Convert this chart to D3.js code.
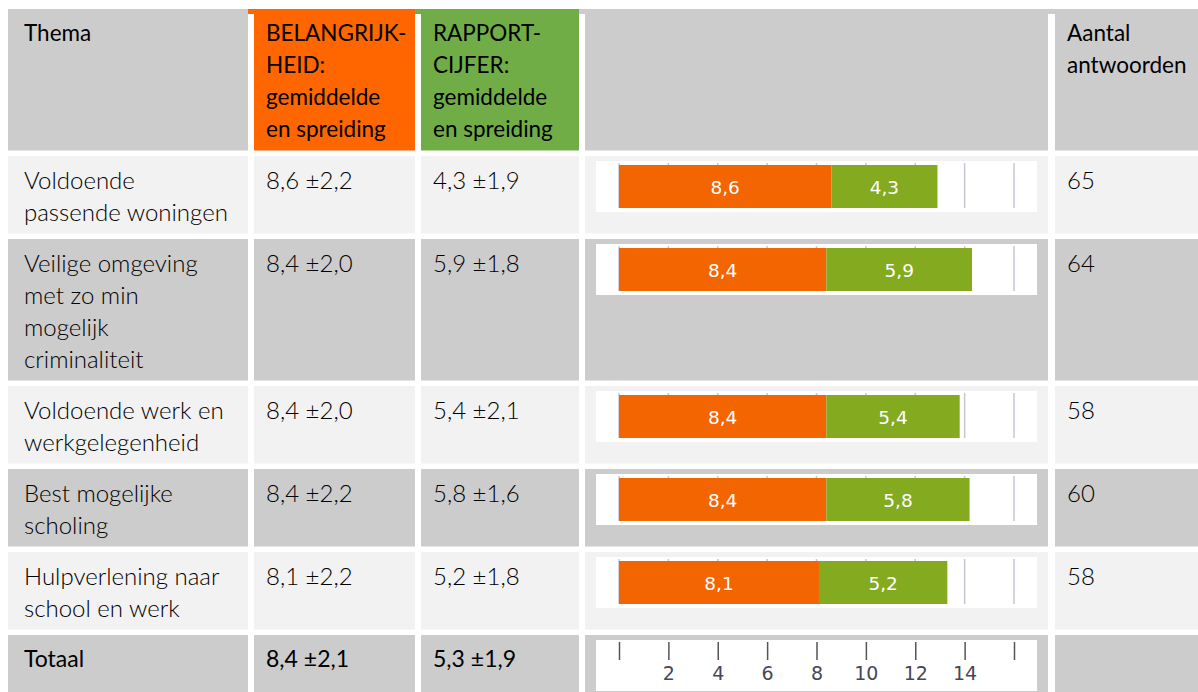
<!DOCTYPE html>
<html>
<head>
<meta charset="utf-8">
<script src="https://cdn.jsdelivr.net/npm/d3@7"></script>
<style>
  body { margin: 0; background: #fff; }
  svg { display: block; font-family: Lato, "Open Sans", sans-serif; }
</style>
</head>
<body>
<svg id="chart"></svg>
<script>
// Table data
const headers = [
  ["Thema"],
  ["BELANGRIJK-", "HEID:", "gemiddelde", "en spreiding"],
  ["RAPPORT-", "CIJFER:", "gemiddelde", "en spreiding"],
  [],
  ["Aantal", "antwoorden"]
];
const themes = [
  ["Voldoende", "passende woningen"],
  ["Veilige omgeving", "met zo min", "mogelijk", "criminaliteit"],
  ["Voldoende werk en", "werkgelegenheid"],
  ["Best mogelijke", "scholing"],
  ["Hulpverlening naar", "school en werk"]
];
const belang = [8.6, 8.4, 8.4, 8.4, 8.1];
const belangSd = [2.2, 2.0, 2.0, 2.2, 2.2];
const rapport = [4.3, 5.9, 5.4, 5.8, 5.2];
const rapportSd = [1.9, 1.8, 2.1, 1.6, 1.8];
const aantal = [65, 64, 58, 60, 58];
const totaal = { label: "Totaal", belang: 8.4, belangSd: 2.1, rapport: 5.3, rapportSd: 1.9 };
const axisTicks = [0, 2, 4, 6, 8, 10, 12, 14, 16];

const W = 1198, H = 692;
const svg = d3.select("#chart").attr("width", W).attr("height", H);

const fmt = v => v.toFixed(1).replace(".", ",");
const barFont = "'DejaVu Sans', Verdana, sans-serif";

// columns: left edge, width, text padding
const cols = [
  { x: 8, w: 240, pad: 16 },
  { x: 254, w: 161, pad: 12 },
  { x: 421, w: 158, pad: 12 },
  { x: 585, w: 463, pad: 12 },
  { x: 1055, w: 143, pad: 12 }
];
const headFill = ["#cccccc", "#ff6600", "#70ad47", "#cccccc", "#cccccc"];
const lineH = 32, gap = 5.5;

// bar scale
const x = d3.scaleLinear().domain([0, 16]).range([619, 1014]);
const cOrange = "#f26500", cGreen = "#84aa1f";

// header
let y = 9;
const headH = 13.5 + 4 * lineH;
cols.forEach((c, i) => {
  svg.append("rect").attr("x", c.x).attr("y", y).attr("width", c.w).attr("height", headH).attr("fill", headFill[i]);
  if (i > 0) svg.append("rect").attr("x", cols[i - 1].x + cols[i - 1].w).attr("y", y).attr("width", c.x - cols[i - 1].x - cols[i - 1].w).attr("height", 5).attr("fill", headFill[i]);
  const t = svg.append("text").attr("x", c.x + c.pad).attr("y", y + 32)
    .attr("font-size", 22.5).attr("fill", "#000");
  headers[i].forEach((l, j) => t.append("tspan").attr("x", c.x + c.pad).attr("dy", j ? lineH : 0).text(l));
});
y += headH + gap;

function textCell(c, top, lines) {
  const t = svg.append("text").attr("x", c.x + c.pad).attr("y", top + 33)
    .attr("font-size", 24).attr("font-weight", 300).attr("fill", "#000");
  lines.forEach((l, j) => t.append("tspan").attr("x", c.x + c.pad).attr("dy", j ? lineH : 0).text(l));
}

function barBox(top) {
  svg.append("rect").attr("x", 596).attr("y", top + 5).attr("width", 441).attr("height", 51).attr("fill", "#fff");
}

function bars(top, b, r) {
  const g = svg.append("g");
  const bt = top + 9, bh = 43;
  // gridlines
  g.selectAll("line.grid").data(axisTicks).join("line")
    .attr("x1", d => x(d)).attr("x2", d => x(d))
    .attr("y1", top + 7).attr("y2", bt + bh)
    .attr("stroke", "#c9c3d3").attr("stroke-width", 1.5);
  const segs = [
    { x0: 0, x1: b, v: b, c: cOrange },
    { x0: b, x1: b + r, v: r, c: cGreen }
  ];
  g.selectAll("rect.seg").data(segs).join("rect")
    .attr("x", d => x(d.x0)).attr("y", bt)
    .attr("width", d => x(d.x1) - x(d.x0)).attr("height", bh)
    .attr("fill", d => d.c);
  g.selectAll("text.lbl").data(segs).join("text")
    .attr("x", d => (x(d.x0) + x(d.x1)) / 2).attr("y", bt + bh / 2 + 7)
    .attr("text-anchor", "middle").style("font-family", barFont)
    .attr("font-size", 18.5).attr("fill", "#fff")
    .text(d => fmt(d.v));
}

themes.forEach((lines, i) => {
  const h = 13.5 + lines.length * lineH;
  const fill = i % 2 === 0 ? "#f2f2f2" : "#cccccc";
  cols.forEach(c => svg.append("rect").attr("x", c.x).attr("y", y).attr("width", c.w).attr("height", h).attr("fill", fill));
  textCell(cols[0], y, lines);
  textCell(cols[1], y, [fmt(belang[i]) + " ±" + fmt(belangSd[i])]);
  textCell(cols[2], y, [fmt(rapport[i]) + " ±" + fmt(rapportSd[i])]);
  textCell(cols[4], y, [String(aantal[i])]);
  barBox(y);
  bars(y, belang[i], rapport[i]);
  y += h + gap;
});

// total row with axis
const th = H - y;
cols.forEach(c => svg.append("rect").attr("x", c.x).attr("y", y).attr("width", c.w).attr("height", th).attr("fill", "#cccccc"));
function totalText(c, s) {
  svg.append("text").attr("x", c.x + c.pad).attr("y", y + 32).attr("font-size", 23)
    .attr("font-weight", 400).attr("fill", "#000").text(s);
}
totalText(cols[0], totaal.label);
totalText(cols[1], fmt(totaal.belang) + " ±" + fmt(totaal.belangSd));
totalText(cols[2], fmt(totaal.rapport) + " ±" + fmt(totaal.rapportSd));
svg.append("rect").attr("x", 596).attr("y", y + 5).attr("width", 441).attr("height", 51).attr("fill", "#fff");

const axis = svg.append("g").attr("transform", `translate(0,${y + 7})`)
  .call(d3.axisBottom(x).tickValues(axisTicks).tickSize(18).tickPadding(7)
    .tickFormat(d => (d > 0 && d < 16) ? d : ""));
axis.select(".domain").remove();
axis.selectAll(".tick line").attr("stroke", "#555").attr("stroke-width", 1.5);
axis.selectAll(".tick text").style("font-family", barFont)
  .attr("font-size", 19).attr("fill", "#45475c");
</script>
</body>
</html>
